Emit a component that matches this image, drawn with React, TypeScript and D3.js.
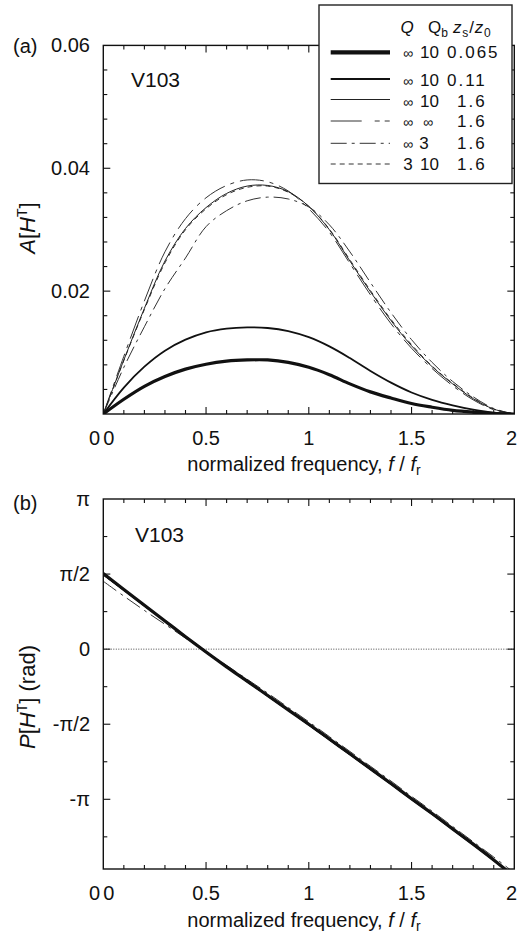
import React from "react";
import * as d3 from "d3";

// ---------- data ----------
const freq = [0, 0.1, 0.2, 0.3, 0.4, 0.5, 0.6, 0.7, 0.8, 0.9, 1.0, 1.1, 1.2, 1.3, 1.4, 1.5, 1.6, 1.7, 1.8, 1.9, 2.0];

// amplitude A[H^T]
const ampZs0065 = [0, 0.0024, 0.0045, 0.0061, 0.0073, 0.0081, 0.0086, 0.0088, 0.0088, 0.0084, 0.0076, 0.0064, 0.0049, 0.0036, 0.0026, 0.0017, 0.0011, 0.0006, 0.0003, 0.0001, 0];
const ampZs011 = [0, 0.0043, 0.0077, 0.0103, 0.0121, 0.0133, 0.0139, 0.0141, 0.014, 0.0135, 0.0125, 0.011, 0.0091, 0.007, 0.0051, 0.0035, 0.0023, 0.0014, 0.0007, 0.0002, 0];
const ampZs16 = [0, 0.0088, 0.0172, 0.0249, 0.0302, 0.0336, 0.0359, 0.0371, 0.0372, 0.0362, 0.0338, 0.03, 0.0249, 0.0199, 0.0152, 0.0111, 0.0077, 0.0049, 0.0025, 0.0008, 0];
const ampQbInf = [0, 0.0094, 0.0184, 0.0264, 0.0318, 0.0352, 0.0372, 0.0381, 0.0378, 0.0363, 0.0334, 0.0296, 0.0245, 0.0194, 0.0147, 0.0107, 0.0074, 0.0046, 0.0023, 0.0007, 0];
const ampQb3 = [0, 0.0076, 0.0142, 0.0204, 0.0254, 0.0305, 0.0331, 0.0347, 0.0353, 0.035, 0.0337, 0.0308, 0.0264, 0.0214, 0.0165, 0.0121, 0.0084, 0.0053, 0.0028, 0.0009, 0];
const ampQ3 = [0, 0.0087, 0.017, 0.0246, 0.03, 0.0334, 0.0357, 0.0369, 0.0371, 0.0361, 0.0338, 0.0301, 0.0251, 0.0201, 0.0154, 0.0113, 0.0078, 0.005, 0.0026, 0.0008, 0];

// phase P[H^T] (rad)
const phZs0065 = [1.58, 1.25, 0.92, 0.59, 0.26, -0.06, -0.37, -0.67, -0.97, -1.27, -1.57, -1.88, -2.19, -2.5, -2.81, -3.13, -3.44, -3.76, -4.08, -4.41, -4.76];
const phZs011 = [1.57, 1.24, 0.91, 0.59, 0.26, -0.06, -0.37, -0.67, -0.97, -1.27, -1.58, -1.89, -2.2, -2.51, -2.82, -3.14, -3.45, -3.77, -4.09, -4.42, -4.76];
const phZs16 = [1.56, 1.23, 0.91, 0.58, 0.26, -0.06, -0.37, -0.68, -0.98, -1.28, -1.58, -1.89, -2.2, -2.51, -2.82, -3.13, -3.45, -3.77, -4.09, -4.42, -4.76];
const phQbInf = [1.55, 1.23, 0.9, 0.58, 0.25, -0.07, -0.38, -0.69, -0.99, -1.29, -1.59, -1.9, -2.21, -2.52, -2.83, -3.14, -3.45, -3.77, -4.09, -4.42, -4.76];
const phQb3 = [1.42, 1.11, 0.81, 0.52, 0.23, -0.06, -0.34, -0.63, -0.92, -1.22, -1.52, -1.83, -2.14, -2.45, -2.76, -3.08, -3.39, -3.71, -4.03, -4.35, -4.68];
const phQ3 = [1.57, 1.24, 0.91, 0.58, 0.25, -0.06, -0.37, -0.68, -0.98, -1.28, -1.58, -1.88, -2.19, -2.5, -2.81, -3.12, -3.43, -3.75, -4.07, -4.4, -4.74];

// legend
const legendQ = ["\u221E", "\u221E", "\u221E", "\u221E", "\u221E", "3"];
const legendQb = ["10", "10", "10", "\u221E", "3", "10"];
const legendZ = ["0.065", "0.11", "1.6", "1.6", "1.6", "1.6"];

// ticks
const xTickLabels = ["0", "0.5", "1", "1.5", "2"];
const ampTickLabels = ["0.06", "0.04", "0.02"];
const phaseTickLabels = ["\u03C0", "\u03C0/2", "0", "-\u03C0/2", "-\u03C0"];

// ---------- styles ----------
const seriesStyle = [
  { w: 3.2, dash: "", color: "#111" },
  { w: 1.8, dash: "", color: "#111" },
  { w: 1.0, dash: "", color: "#222" },
  { w: 1.0, dash: "24 6 4 6", color: "#333" },
  { w: 1.0, dash: "16 5 3 5", color: "#333" },
  { w: 1.0, dash: "5 4", color: "#333" },
];
const ampSeries = [ampZs0065, ampZs011, ampZs16, ampQbInf, ampQb3, ampQ3];
const phSeries = [phZs0065, phZs011, phZs16, phQbInf, phQb3, phQ3];

const FONT = "'Liberation Sans', Arial, Helvetica, sans-serif";

const X0 = 103.3, X1 = 514.3;

function Frame({ top, bottom, yMinor, yMajor, yScale }: any) {
  const x = d3.scaleLinear().domain([0, 2]).range([X0, X1]);
  const xMinor = d3.range(1, 20).map((i) => i / 10);
  const ticks: any[] = [];
  xMinor.forEach((v, i) => {
    const major = (i + 1) % 5 === 0;
    const len = major ? 7 : 4;
    ticks.push(<line key={"xb" + i} x1={x(v)} x2={x(v)} y1={bottom} y2={bottom - len} />);
    ticks.push(<line key={"xt" + i} x1={x(v)} x2={x(v)} y1={top} y2={top + len} />);
  });
  yMinor.forEach((v: number, i: number) => {
    const major = yMajor.some((m: number) => Math.abs(m - v) < 1e-9);
    const len = major ? 7 : 4;
    ticks.push(<line key={"yl" + i} x1={X0} x2={X0 + len} y1={yScale(v)} y2={yScale(v)} />);
    ticks.push(<line key={"yr" + i} x1={X1} x2={X1 - len} y1={yScale(v)} y2={yScale(v)} />);
  });
  return (
    <g stroke="#111" strokeWidth={1.1}>
      {ticks}
      <rect x={X0} y={top} width={X1 - X0} height={bottom - top} fill="none" strokeWidth={1.4} />
    </g>
  );
}

export default function App() {
  const x = d3.scaleLinear().domain([0, 2]).range([X0, X1]);

  // top panel
  const aTop = 45.4, aBot = 414;
  const yA = d3.scaleLinear().domain([0, 0.06]).range([aBot, aTop]);
  const aMinor = d3.range(1, 15).map((i) => i * 0.004);
  const aMajor = [0.02, 0.04];
  const aTickVals = [0.06, 0.04, 0.02];

  // bottom panel
  const pTop = 499, pBot = 869;
  const yP = d3.scaleLinear().domain([-4.6, Math.PI]).range([pBot, pTop]);
  const pMinor = d3.range(-5, 4).map((i) => (i * Math.PI) / 4).filter((v) => v > -4.6 && v < Math.PI - 1e-6);
  const pMajor = [-Math.PI, -Math.PI / 2, 0, Math.PI / 2];
  const pTickVals = [Math.PI, Math.PI / 2, 0, -Math.PI / 2, -Math.PI];

  const lineA = d3
    .line<number>()
    .x((_, i) => x(freq[i]))
    .y((d) => yA(d))
    .curve(d3.curveCatmullRom.alpha(0.5));
  const lineP = d3
    .line<number>()
    .x((_, i) => x(freq[i]))
    .y((d) => yP(d))
    .curve(d3.curveCatmullRom.alpha(0.5));

  const drawOrder = [5, 4, 3, 2, 1, 0];
  const xTickVals = [0, 0.5, 1, 1.5, 2];

  const xLabels = (baseline: number) =>
    xTickLabels.map((t, i) => (
      <text
        key={"xl" + i}
        x={i === 0 ? X0 : i === xTickLabels.length - 1 ? 517 : x(xTickVals[i])}
        y={baseline}
        textAnchor={i === 0 ? "start" : i === xTickLabels.length - 1 ? "end" : "middle"}
      >
        {t}
      </text>
    ));

  const xTitle = (baseline: number) => (
    <text x={304} y={baseline} textAnchor="middle" fontSize={20}>
      normalized frequency, <tspan fontStyle="italic">f</tspan> / <tspan fontStyle="italic">f</tspan>
      <tspan fontSize={14} dy={4}>r</tspan>
    </text>
  );

  const legendRowsY = [52.3, 79, 99.5, 121, 143.3, 164];
  const legendBase = [58.3, 86, 107.3, 127.3, 149.3, 170];

  return (
    <svg
      width={517}
      height={937}
      style={{ position: "absolute", left: 0, top: 0, background: "#fff" }}
      fontFamily={FONT}
      fill="#111"
    >
      <defs>
        <clipPath id="clipA">
          <rect x={X0} y={aTop} width={X1 - X0} height={aBot - aTop} />
        </clipPath>
        <clipPath id="clipP">
          <rect x={X0} y={pTop} width={X1 - X0} height={pBot - pTop} />
        </clipPath>
      </defs>
      <rect x={0} y={0} width={517} height={937} fill="#fff" />

      {/* ===== Panel (a) ===== */}
      <g clipPath="url(#clipA)" fill="none">
        {drawOrder.map((k) => (
          <path
            key={"a" + k}
            d={lineA(ampSeries[k]) || ""}
            stroke={seriesStyle[k].color}
            strokeWidth={seriesStyle[k].w}
            strokeDasharray={seriesStyle[k].dash || undefined}
          />
        ))}
      </g>
      <Frame top={aTop} bottom={aBot} yMinor={aMinor} yMajor={aMajor} yScale={yA} />
      <g fontSize={20}>
        {ampTickLabels.map((t, i) => (
          <text key={"al" + i} x={90} y={yA(aTickVals[i]) + 7} textAnchor="end">
            {t}
          </text>
        ))}
        <text x={100} y={445} textAnchor="end">0</text>
        {xLabels(445)}
        <text x={13} y={53} fontSize={20}>(a)</text>
      </g>
      <text x={131} y={87} fontSize={21}>V103</text>
      {xTitle(471)}
      <text transform={`translate(35,228) rotate(-90)`} textAnchor="middle" fontSize={22}>
        <tspan fontStyle="italic">A</tspan>[<tspan fontStyle="italic">H</tspan>
        <tspan fontSize={14} dy={-8}>T</tspan>
        <tspan dy={8}>]</tspan>
      </text>

      {/* Legend */}
      <g>
        <rect x={319} y={5} width={193} height={178.5} fill="#fff" stroke="#222" strokeWidth={1.4} />
        <g fontSize={17}>
          <text x={407} y={33} textAnchor="middle" fontStyle="italic">Q</text>
          <text x={428} y={33}>
            Q<tspan fontSize={12} dy={4}>b</tspan>
          </text>
          <text x={453} y={33} letterSpacing={0.8}>
            <tspan fontStyle="italic">z</tspan>
            <tspan fontSize={12} dy={4}>s</tspan>
            <tspan dy={-4}>/</tspan>
            <tspan fontStyle="italic">z</tspan>
            <tspan fontSize={12} dy={4}>0</tspan>
          </text>
          {legendQ.map((q, i) => (
            <g key={"lg" + i}>
              <line
                x1={330.7}
                x2={390}
                y1={legendRowsY[i]}
                y2={legendRowsY[i]}
                stroke={seriesStyle[i].color}
                strokeWidth={i === 0 ? 4.3 : seriesStyle[i].w}
                strokeDasharray={i === 3 ? "31 13 5 5 5 13" : seriesStyle[i].dash || undefined}
              />
              <text x={408} y={legendBase[i]} textAnchor="middle" fontSize={q === "3" ? 17 : 14}>
                {q}
              </text>
              <text
                x={legendQb[i] === "\u221E" ? 428 : legendQb[i] === "3" ? 424 : 420}
                y={legendBase[i]}
                textAnchor={legendQb[i] === "10" ? "start" : "middle"}
                fontSize={legendQb[i] === "\u221E" ? 14 : 17}
              >
                {legendQb[i]}
              </text>
              <text x={legendZ[i].startsWith("0.") ? 447 : 457} y={legendBase[i]} letterSpacing={2}>
                {legendZ[i]}
              </text>
            </g>
          ))}
        </g>
      </g>

      {/* ===== Panel (b) ===== */}
      <line x1={X0} x2={X1} y1={yP(0)} y2={yP(0)} stroke="#333" strokeWidth={0.9} strokeDasharray="1 1.5" />
      <g clipPath="url(#clipP)" fill="none">
        {drawOrder.map((k) => (
          <path
            key={"p" + k}
            d={lineP(phSeries[k]) || ""}
            stroke={seriesStyle[k].color}
            strokeWidth={seriesStyle[k].w}
            strokeDasharray={seriesStyle[k].dash || undefined}
          />
        ))}
      </g>
      <Frame top={pTop} bottom={pBot} yMinor={pMinor} yMajor={pMajor} yScale={yP} />
      <g fontSize={20}>
        {phaseTickLabels.map((t, i) => (
          <text key={"pl" + i} x={90} y={yP(pTickVals[i]) + 7} textAnchor="end">
            {t}
          </text>
        ))}
        <text x={100} y={900} textAnchor="end">0</text>
        {xLabels(900)}
        <text x={13} y={510}>(b)</text>
      </g>
      <text x={135} y={542} fontSize={21}>V103</text>
      {xTitle(927)}
      <text transform={`translate(35,697) rotate(-90)`} textAnchor="middle" fontSize={22}>
        <tspan fontStyle="italic">P</tspan>[<tspan fontStyle="italic">H</tspan>
        <tspan fontSize={14} dy={-8}>T</tspan>
        <tspan dy={8}>] (rad)</tspan>
      </text>
    </svg>
  );
}
